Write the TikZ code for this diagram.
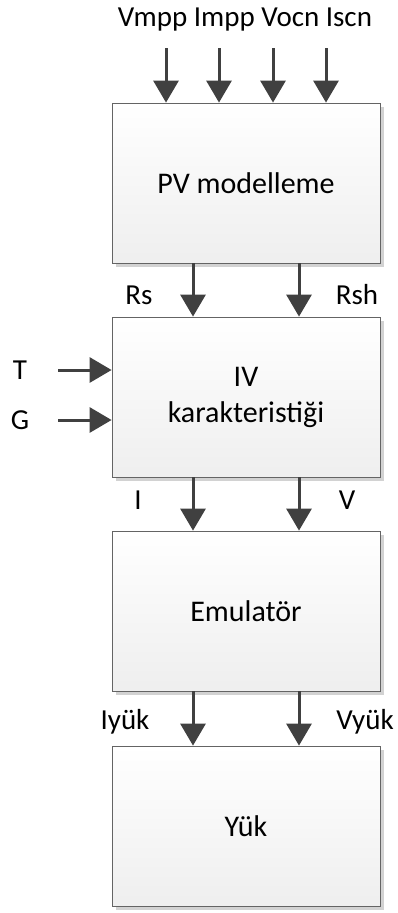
\documentclass[tikz,border=0pt]{standalone}
\usepackage{fontspec}
\setmainfont{Carlito}
\usetikzlibrary{arrows.meta,shadows}
\definecolor{arr}{RGB}{64,64,64}
\definecolor{edge}{RGB}{100,100,100}

\begin{document}
\begin{tikzpicture}[x=1pt,y=-1pt,
  blk/.style={draw=edge,line width=0.8pt,top color=white,bottom color=gray!13,
              minimum width=268pt,minimum height=160pt,align=center,
              font=\fontsize{30}{36}\selectfont,
              drop shadow={shadow xshift=4pt,shadow yshift=-4pt,fill=gray!70}},
  sig/.style={-{Triangle[length=22pt,width=25pt]},line width=3pt,draw=arr},
  lbl/.style={font=\fontsize{29}{34}\selectfont,inner sep=0pt}
]
\useasboundingbox (0,0) rectangle (398,913);
\node[blk] (pv) at (246,183) {PV modelleme};
\node[blk] (iv) at (246,397) {IV\\karakteristiği};
\node[blk] (emu) at (246,611) {Emulatör};
\node[blk] (yuk) at (246,826) {Yük};
% girisler
\node[lbl] (inp) at (245,20) {Vmpp Impp Vocn Iscn};
\foreach \n/\x in {vmpp/166,impp/219,vocn/273,iscn/326}{
  \coordinate (\n) at (\x,48);
  \draw[sig] (\n) -- (\n |- pv.north);
}
\coordinate (tin) at (58,370);
\coordinate (gin) at (58,420);
\draw[sig] (tin) -- (tin -| iv.west);
\draw[sig] (gin) -- (gin -| iv.west);
\node[lbl] (tl) at (20,370) {T};
\node[lbl] (gl) at (20,420) {G};
% bloklar arasi
\draw[sig] ([xshift=-53pt]pv.south) -- ([xshift=-53pt]iv.north);
\draw[sig] ([xshift=53pt]pv.south) -- ([xshift=53pt]iv.north);
\draw[sig] ([xshift=-53pt]iv.south) -- ([xshift=-53pt]emu.north);
\draw[sig] ([xshift=53pt]iv.south) -- ([xshift=53pt]emu.north);
\draw[sig] ([xshift=-53pt]emu.south) -- ([xshift=-53pt]yuk.north);
\draw[sig] ([xshift=53pt]emu.south) -- ([xshift=53pt]yuk.north);
\node[lbl] (rs) at (139,295) {Rs};
\node[lbl] (rsh) at (357,295) {Rsh};
\node[lbl] (il) at (138,500) {I};
\node[lbl] (vl) at (347,500) {V};
\node[lbl] (iyuk) at (125,722) {Iyük};
\node[lbl] (vyuk) at (365,722) {Vyük};
\end{tikzpicture}
\end{document}
